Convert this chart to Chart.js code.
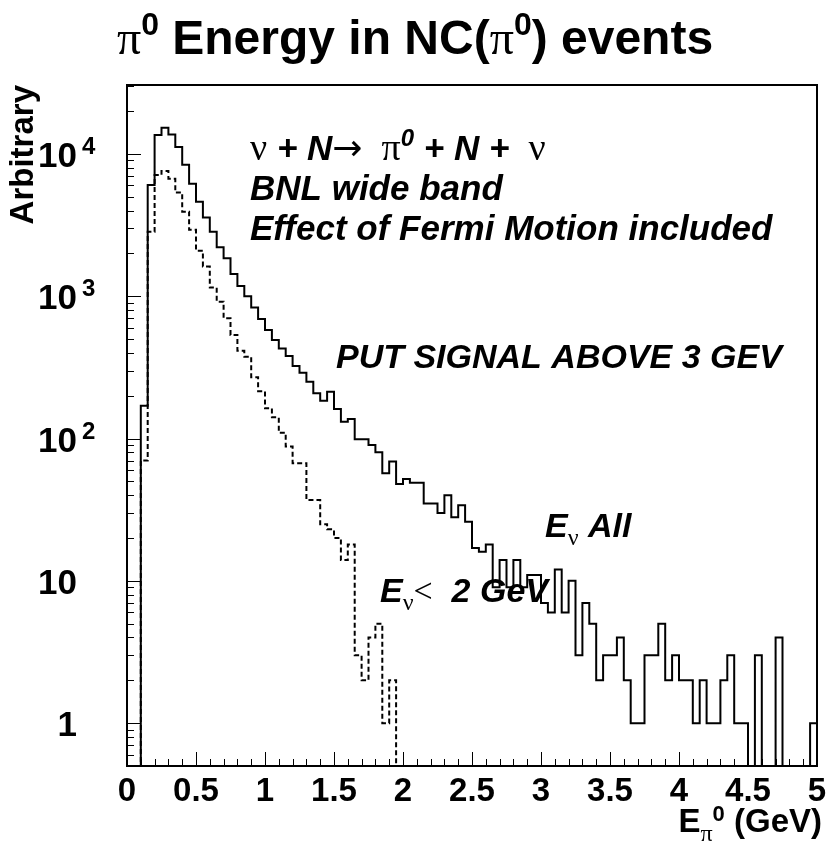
<!DOCTYPE html>
<html lang="en">
<head>
<meta charset="UTF-8" />
<title>pi0 Energy in NC(pi0) events</title>
<style>
  body { margin: 0; background: #fff; }
  #chart { display: block; }
</style>
</head>
<body>
<canvas id="chart" width="831" height="848"></canvas>
<script src="https://cdn.jsdelivr.net/npm/chart.js"></script>
<script>
// histogram binning: 100 bins of 0.05 GeV between 0 and 5 GeV
const binLow = 0;
const binWidth = 0.05;

// E_nu All (solid line), entries per bin
const allEvents = [
  0, 0, 170, 6050, 13600, 15300, 13700, 11200, 8400, 6180,
  4620, 3570, 2840, 2210, 1850, 1430, 1180, 1000, 835, 692,
  580, 492, 430, 380, 323, 290, 251, 208, 184, 213,
  161, 131, 137, 99, 99, 90, 80, 57, 69, 48,
  52, 49, 49, 35, 35, 30, 40, 28, 34, 26,
  17, 16, 18, 9, 14, 9, 14, 9, 11, 11,
  7, 6, 12, 6, 10, 3, 7, 5, 2, 3,
  3, 4, 2, 1, 1, 3, 3, 5, 2, 3,
  2, 2, 1, 2, 1, 1, 2, 3, 1, 1,
  0, 3, 0, 0, 4, 0, 0, 0, 0, 1
];

// E_nu < 2 GeV (dashed line)
const lowEnergy = [
  0, 0, 70, 2840, 7100, 7600, 6700, 5350, 3930, 2930,
  2090, 1620, 1150, 915, 700, 535, 414, 376, 270, 215,
  163, 141, 110, 88, 67, 67, 37, 37, 25, 23,
  20, 14, 18, 3, 2, 4, 5, 1, 2, 0,
  0, 0, 0, 0, 0, 0, 0, 0, 0, 0,
  0, 0, 0, 0, 0, 0, 0, 0, 0, 0,
  0, 0, 0, 0, 0, 0, 0, 0, 0, 0,
  0, 0, 0, 0, 0, 0, 0, 0, 0, 0,
  0, 0, 0, 0, 0, 0, 0, 0, 0, 0,
  0, 0, 0, 0, 0, 0, 0, 0, 0, 0
];

const xTickValues = [0, 0.5, 1, 1.5, 2, 2.5, 3, 3.5, 4, 4.5, 5];
const xTickLabels = ['0', '0.5', '1', '1.5', '2', '2.5', '3', '3.5', '4', '4.5', '5'];
const yTickValues = [1, 10, 100, 1000, 10000];
const yTickBases = ['1', '10', '10', '10', '10'];
const yTickExps = ['', '', '2', '3', '4'];

const xMin = 0, xMax = 5;
const yMin = 0.5, yMax = 30500;
const emptyBin = 0.05; // below the axis, so empty bins drop to the frame

const SANS = '"Liberation Sans", Arial, Helvetica, sans-serif';
const SERIF = '"Liberation Serif", "DejaVu Serif", serif';

// stepped outline of a histogram through the x/y scales
function histPoints(values) {
  const pts = [{ x: binLow, y: emptyBin }];
  values.forEach((v, i) => {
    pts.push({ x: binLow + i * binWidth, y: v > 0 ? v : emptyBin });
  });
  const last = values[values.length - 1];
  pts.push({ x: binLow + values.length * binWidth, y: last > 0 ? last : emptyBin });
  pts.push({ x: binLow + values.length * binWidth, y: emptyBin });
  return pts;
}

function drawRich(ctx, parts, x, y, align) {
  let total = 0;
  parts.forEach(p => {
    ctx.font = p.font;
    p.w = ctx.measureText(p.text).width;
    total += p.w;
  });
  let cx = x;
  if (align === 'right') cx = x - total;
  if (align === 'center') cx = x - total / 2;
  ctx.textAlign = 'left';
  ctx.textBaseline = 'alphabetic';
  parts.forEach(p => {
    ctx.font = p.font;
    ctx.fillText(p.text, cx, y + (p.dy || 0));
    cx += p.w;
  });
}

const framePlugin = {
  id: 'frame',
  afterDatasetsDraw(chart) {
    const ctx = chart.ctx;
    const a = chart.chartArea;
    const xs = chart.scales.x;
    const ys = chart.scales.y;
    ctx.save();
    ctx.strokeStyle = '#000';
    ctx.fillStyle = '#000';

    // y ticks inside the frame (decades long, 2..9 short)
    ctx.lineWidth = 1;
    ctx.beginPath();
    for (let d = -1; d <= 4; d++) {
      for (let m = 1; m <= 9; m++) {
        const v = m * Math.pow(10, d);
        if (v <= yMin || v >= yMax) continue;
        const py = Math.round(ys.getPixelForValue(v)) + 0.5;
        const len = m === 1 ? 14 : 7;
        ctx.moveTo(a.left, py);
        ctx.lineTo(a.left + len, py);
      }
    }
    // x ticks every 0.1, long every 0.5
    for (let k = 1; k < 50; k++) {
      const px = Math.round(xs.getPixelForValue(k / 10)) + 0.5;
      const len = k % 5 === 0 ? 14 : 7;
      ctx.moveTo(px, a.bottom);
      ctx.lineTo(px, a.bottom - len);
    }
    ctx.stroke();

    ctx.lineWidth = 2;
    ctx.strokeRect(a.left, a.top, a.right - a.left, a.bottom - a.top);

    // x tick labels
    ctx.font = 'bold 33px ' + SANS;
    ctx.textAlign = 'center';
    ctx.textBaseline = 'alphabetic';
    xTickValues.forEach((v, i) => {
      ctx.fillText(xTickLabels[i], xs.getPixelForValue(v), 801);
    });

    // y tick labels with exponents
    yTickValues.forEach((v, i) => {
      const py = ys.getPixelForValue(v);
      ctx.font = 'bold 35px ' + SANS;
      ctx.textAlign = 'right';
      ctx.fillText(yTickBases[i], 77, py + 13);
      if (yTickExps[i]) {
        ctx.font = 'bold 24px ' + SANS;
        ctx.textAlign = 'left';
        ctx.fillText(yTickExps[i], 82, py);
      }
    });

    // title
    const big = 'bold 48px ' + SANS;
    const sup = 'bold 32px ' + SANS;
    const pi = '48px ' + SERIF;
    drawRich(ctx, [
      { text: '\u03c0', font: pi },
      { text: '0', font: sup, dy: -19 },
      { text: ' Energy in NC(', font: big },
      { text: '\u03c0', font: pi },
      { text: '0', font: sup, dy: -19 },
      { text: ') events', font: big }
    ], 415, 54, 'center');

    // axis titles
    ctx.save();
    ctx.translate(33, 85);
    ctx.rotate(-Math.PI / 2);
    ctx.font = 'bold 33px ' + SANS;
    ctx.textAlign = 'right';
    ctx.fillText('Arbitrary', 0, 0);
    ctx.restore();

    drawRich(ctx, [
      { text: 'E', font: 'bold 33px ' + SANS },
      { text: '\u03c0', font: '24px ' + SERIF, dy: 9 },
      { text: '0', font: 'bold 22px ' + SANS, dy: -11 },
      { text: ' (GeV)', font: 'bold 33px ' + SANS }
    ], 822, 832, 'right');

    // annotations
    const bi = 'italic bold 35px ' + SANS;
    const gr = '38px ' + SERIF;
    const sub = '24px ' + SERIF;
    drawRich(ctx, [
      { text: '\u03bd', font: gr },
      { text: ' + N', font: bi },
      { text: '\u2192', font: '36px "DejaVu Sans", sans-serif' },
      { text: '  \u03c0', font: gr },
      { text: '0', font: 'italic bold 24px ' + SANS, dy: -14 },
      { text: ' + N + ', font: bi },
      { text: ' \u03bd', font: gr }
    ], 250, 160, 'left');
    drawRich(ctx, [{ text: 'BNL wide band', font: bi }], 250, 200, 'left');
    drawRich(ctx, [{ text: 'Effect of Fermi Motion included', font: bi }], 250, 240, 'left');
    drawRich(ctx, [{ text: 'PUT SIGNAL ABOVE 3 GEV', font: 'italic bold 34px ' + SANS }], 336, 368, 'left');
    drawRich(ctx, [
      { text: 'E', font: 'italic bold 34px ' + SANS },
      { text: '\u03bd', font: sub, dy: 8 },
      { text: ' All', font: 'italic bold 34px ' + SANS }
    ], 545, 537, 'left');
    drawRich(ctx, [
      { text: 'E', font: 'italic bold 34px ' + SANS },
      { text: '\u03bd', font: sub, dy: 8 },
      { text: '<', font: '34px ' + SERIF },
      { text: '  2 GeV', font: 'italic bold 34px ' + SANS }
    ], 380, 602, 'left');

    ctx.restore();
  }
};

new Chart(document.getElementById('chart'), {
  type: 'line',
  data: {
    datasets: [
      {
        label: 'E_nu All',
        data: histPoints(allEvents),
        stepped: true,
        borderColor: '#000',
        borderWidth: 2,
        pointRadius: 0,
        fill: false
      },
      {
        label: 'E_nu < 2 GeV',
        data: histPoints(lowEnergy),
        stepped: true,
        borderColor: '#000',
        borderWidth: 2,
        borderDash: [5, 3],
        pointRadius: 0,
        fill: false
      }
    ]
  },
  options: {
    responsive: false,
    devicePixelRatio: 1,
    animation: false,
    layout: { padding: { left: 127, right: 14, top: 85, bottom: 82 } },
    plugins: { legend: { display: false }, tooltip: { enabled: false } },
    scales: {
      x: { type: 'linear', min: xMin, max: xMax, display: false },
      y: { type: 'logarithmic', min: yMin, max: yMax, display: false }
    }
  },
  plugins: [framePlugin]
});
</script>
</body>
</html>
